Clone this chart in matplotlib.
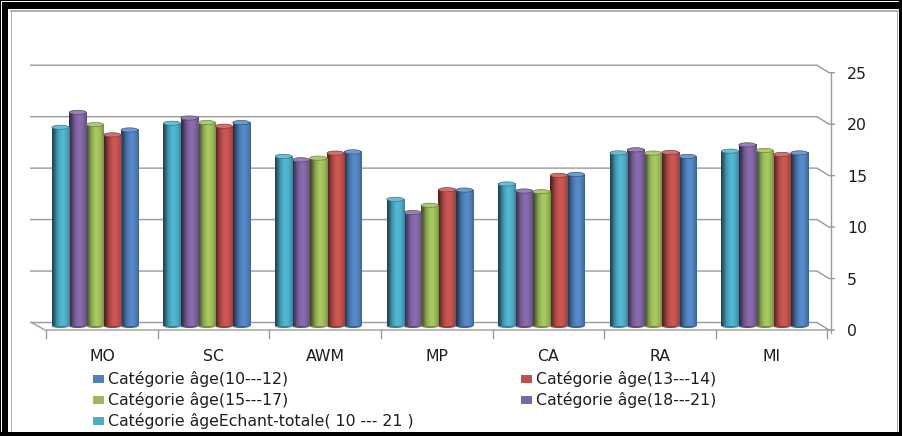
import numpy as np
import matplotlib
matplotlib.use("Agg")
import matplotlib.pyplot as plt
from matplotlib.patches import Rectangle, Ellipse
from matplotlib import transforms
from matplotlib.colors import to_rgb

# ---- data -------------------------------------------------------------
categories = ["MO", "SC", "AWM", "MP", "CA", "RA", "MI"]
series_names = [
    "Catégorie âge(10---12)",
    "Catégorie âge(13---14)",
    "Catégorie âge(15---17)",
    "Catégorie âge(18---21)",
    "Catégorie âgeEchant-totale( 10 --- 21 )",
]
age_10_12 = [19.05, 19.77, 16.92, 13.21, 14.73, 16.48, 16.82]
age_13_14 = [18.57, 19.41, 16.80, 13.24, 14.64, 16.86, 16.67]
age_15_17 = [19.57, 19.77, 16.31, 11.73, 13.05, 16.80, 17.06]
age_18_21 = [20.76, 20.21, 16.15, 11.02, 13.12, 17.12, 17.60]
age_total = [19.31, 19.70, 16.48, 12.31, 13.80, 16.82, 16.99]
y_ticks = [0, 5, 10, 15, 20, 25]
series_colors = ["#4F81BD", "#C0504D", "#9BBB59", "#8064A2", "#4BACC6"]

series_values = [age_10_12, age_13_14, age_15_17, age_18_21, age_total]

# ---- figure / layout (pixel based) -------------------------------------
W, H = 902, 436
fig = plt.figure(figsize=(W / 100, H / 100), dpi=100)
pix = transforms.Affine2D().scale(1 / W, -1 / H).translate(0, 1) + fig.transFigure

X_ZERO_PX, X_STEP_PX = 102.0, 111.6      # category centre spacing (front plane)
Y_ZERO_PX, Y_TOP_PX = 330.0, 72.7        # value 0 and value 25 on the front plane
AX_LEFT_PX, AX_RIGHT_PX = 30.0, 831.0
PPU = (Y_ZERO_PX - Y_TOP_PX) / 25.0      # pixels per value unit
BACK_DY = 7.5 / PPU                      # back wall raised relative to front


def px_x(px):
    return (px - X_ZERO_PX) / X_STEP_PX


ax = fig.add_axes([AX_LEFT_PX / W, (H - Y_ZERO_PX) / H,
                   (AX_RIGHT_PX - AX_LEFT_PX) / W, (Y_ZERO_PX - Y_TOP_PX) / H])
ax.set_xlim(px_x(AX_LEFT_PX), px_x(AX_RIGHT_PX))
ax.set_ylim(0, 25)
ax.axis("off")

grid_c = "#9A9A9A"
# back-wall gridlines with the perspective step to the value axis
for v in y_ticks:
    ax.plot([px_x(30), px_x(817), px_x(829), px_x(835)],
            [v + BACK_DY, v + BACK_DY, v, v],
            color=grid_c, lw=1.0, clip_on=False, zorder=1,
            solid_capstyle="butt")
# floor edge on the left and front
ax.plot([px_x(31.5), px_x(45), px_x(831)], [BACK_DY, 0, 0],
        color=grid_c, lw=1.0, clip_on=False, zorder=1)
# value axis
ax.plot([px_x(831), px_x(831)], [-0.25, 25], color=grid_c, lw=1.0,
        clip_on=False, zorder=1)
# category tick marks
for k in range(len(categories) + 1):
    xb = k - 0.5
    ax.plot([xb, xb], [0, -8 / PPU], color=grid_c, lw=1.0, clip_on=False,
            zorder=1)

# ---- cylinders --------------------------------------------------------
bar_trf = ax.transData + transforms.ScaledTranslation(-7 / 100, 4 / 100,
                                                      fig.dpi_scale_trans)
bw = 17.3 / X_STEP_PX
x = np.arange(len(categories))

prof_t = [0.0, 0.12, 0.3, 0.5, 0.65, 0.82, 1.0]
prof_f = [0.38, 0.55, 0.88, 1.06, 1.08, 0.98, 0.78]
tt = np.linspace(0, 1, 64)
shade = np.interp(tt, prof_t, prof_f)

for s, (vals, col) in enumerate(zip(series_values, series_colors)):
    slot = 4 - s
    xs = x + (slot - 2) * bw
    base = np.array(to_rgb(col))
    bars = ax.bar(xs, vals, width=bw, color=col, transform=bar_trf,
                  zorder=2, linewidth=0)
    grad = np.clip(base[None, None, :] * shade[None, :, None], 0, 1)
    light = np.clip(base * 0.8 + 0.2, 0, 1)
    for r in bars:
        x0, w_, h_ = r.get_x(), r.get_width(), r.get_height()
        ax.imshow(grad, extent=[x0, x0 + w_, 0, h_], transform=bar_trf,
                  aspect="auto", interpolation="bilinear", zorder=2.1)
        # rounded bottom
        ax.add_patch(Ellipse((x0 + w_ / 2, 0), w_, 4 / PPU, transform=bar_trf,
                             facecolor=base * 0.75, edgecolor="none",
                             zorder=2.05))
        # top cap
        ax.add_patch(Ellipse((x0 + w_ / 2, h_), w_ * 0.98, 4.2 / PPU,
                             transform=bar_trf, facecolor=light,
                             edgecolor=base * 0.7, linewidth=0.5, zorder=2.2))
ax.set_xlim(px_x(AX_LEFT_PX), px_x(AX_RIGHT_PX))
ax.set_ylim(0, 25)

# ---- text ---------------------------------------------------------------
txt_c = "#1E1E1E"
FS = 11.3
for i, c in enumerate(categories):
    fig.text(X_ZERO_PX + X_STEP_PX * i, 356.5, c, transform=pix, ha="center",
             va="center", fontsize=FS, color=txt_c)
for v in y_ticks:
    fig.text(847, Y_ZERO_PX - v * PPU + 1.5, str(v), transform=pix,
             ha="left", va="center", fontsize=FS, color=txt_c)

# legend: row-wise, two columns
leg_pos = [(93, 379), (521, 379), (93, 400), (521, 400), (93, 421)]
for (lx, ly), name, col in zip(leg_pos, series_names, series_colors):
    fig.patches.append(Rectangle((lx, ly - 3.8), 11, 7.6, transform=pix,
                                 facecolor=col, edgecolor="none"))
    fig.text(lx + 15, ly, name, transform=pix, ha="left", va="center",
             fontsize=FS, color=txt_c)

# ---- frame -------------------------------------------------------------
def frame_rect(x0, y0, w, h, color):
    fig.patches.append(Rectangle((x0, y0), w, h, transform=pix,
                                 facecolor=color, edgecolor="none", zorder=10))

frame_rect(0, 0, W, 1, "black")
frame_rect(0, 0, 1, H, "black")
frame_rect(2, 2, W - 2, 7, "black")
frame_rect(2, 2, 6, H - 2, "black")
frame_rect(10, 10.5, W - 13, 1.2, "#B0B0B0")
frame_rect(10.5, 10, 1.2, H - 14, "#B0B0B0")
frame_rect(0, 432, W, 4, "black")
frame_rect(897, 10, 1.2, H - 14, "#B0B0B0")
frame_rect(899, 0, 3, H, "black")

fig.savefig("out.png", dpi=100)
